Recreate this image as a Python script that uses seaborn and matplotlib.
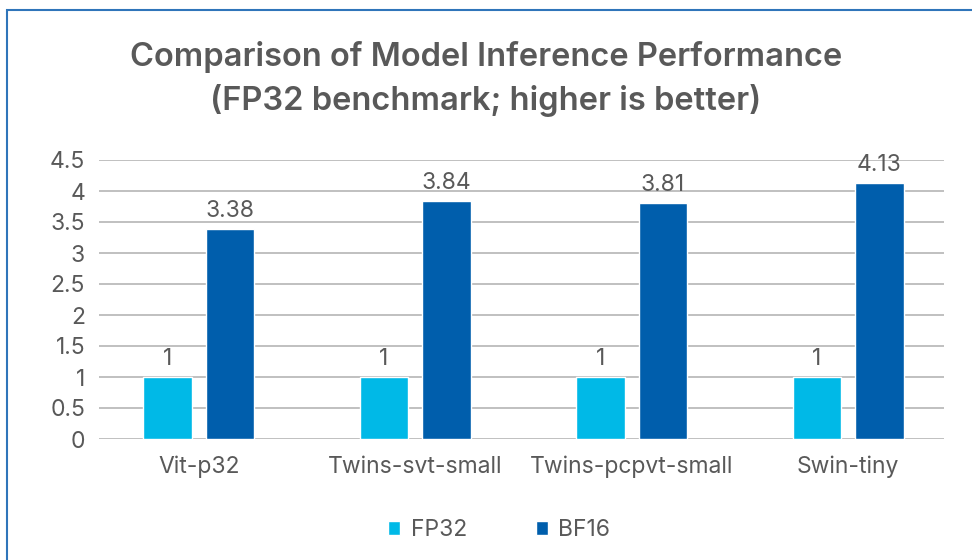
import matplotlib
matplotlib.use("Agg")
import matplotlib.pyplot as plt
import seaborn as sns
import pandas as pd
from matplotlib.patches import Rectangle

categories = ["Vit-p32", "Twins-svt-small", "Twins-pcpvt-small", "Swin-tiny"]
fp32 = [1, 1, 1, 1]
bf16 = [3.38, 3.84, 3.81, 4.13]
series_names = ["FP32", "BF16"]
yticks = [0, 0.5, 1, 1.5, 2, 2.5, 3, 3.5, 4, 4.5]
ytick_labels = ["0", "0.5", "1", "1.5", "2", "2.5", "3", "3.5", "4", "4.5"]
title = "Comparison of Model Inference Performance\n(FP32 benchmark; higher is better)"

df = pd.DataFrame({
    "model": categories * 2,
    "value": fp32 + bf16,
    "series": [series_names[0]] * len(categories) + [series_names[1]] * len(categories),
})

sns.set_theme(style="white")
plt.rcParams["font.family"] = ["Inter", "DejaVu Sans"]
text_color = "#595959"
fs = 16.5

fig = plt.figure(figsize=(9.72, 5.6), dpi=100)
ax = fig.add_axes([99 / 972, 1 - 439 / 560, (944 - 99) / 972, (439 - 160) / 560])

palette = {"FP32": "#00B9E7", "BF16": "#005EAC"}
sns.barplot(data=df, x="model", y="value", hue="series", palette=palette,
            width=0.5755, gap=0.222, ax=ax, saturation=1, legend=True)

ax.set_ylim(0, 4.5)
ax.set_xlim(-0.4605, 3.4425)
ax.set_yticks(yticks)
ax.set_yticklabels(ytick_labels)
ax.yaxis.grid(True, color="#C0C0C0", linewidth=1.4)
ax.set_axisbelow(True)
for s in ax.spines.values():
    s.set_visible(False)
ax.tick_params(axis="y", length=0, labelsize=fs, labelcolor=text_color, pad=10)
ax.tick_params(axis="x", length=0, labelsize=fs, labelcolor=text_color, pad=12)
ax.set_xlabel("")
ax.set_ylabel("")

for cont in ax.containers:
    ax.bar_label(cont, labels=[f"{v:g}" for v in cont.datavalues],
                 fontsize=fs, color=text_color, padding=5)

handles, labels = ax.get_legend_handles_labels()
ax.get_legend().remove()
leg = fig.legend(handles, labels, loc="center", bbox_to_anchor=(499 / 972, 1 - 530 / 560),
                 ncol=2, frameon=False, fontsize=fs, handlelength=0.55, handleheight=0.55,
                 columnspacing=3.0, handletextpad=0.45)
for t in leg.get_texts():
    t.set_color(text_color)

fig.text(0.5, 1 - 79 / 560, title, ha="center", va="center", fontsize=23.5,
         fontweight="semibold", color=text_color, linespacing=1.45)

fig.patches.append(Rectangle((7 / 972, -0.1), 1.2, 1 - 10 / 560 + 0.1,
                             transform=fig.transFigure, fill=False,
                             edgecolor="#2F75BA", linewidth=1.5))

fig.savefig("out.png", dpi=100)
